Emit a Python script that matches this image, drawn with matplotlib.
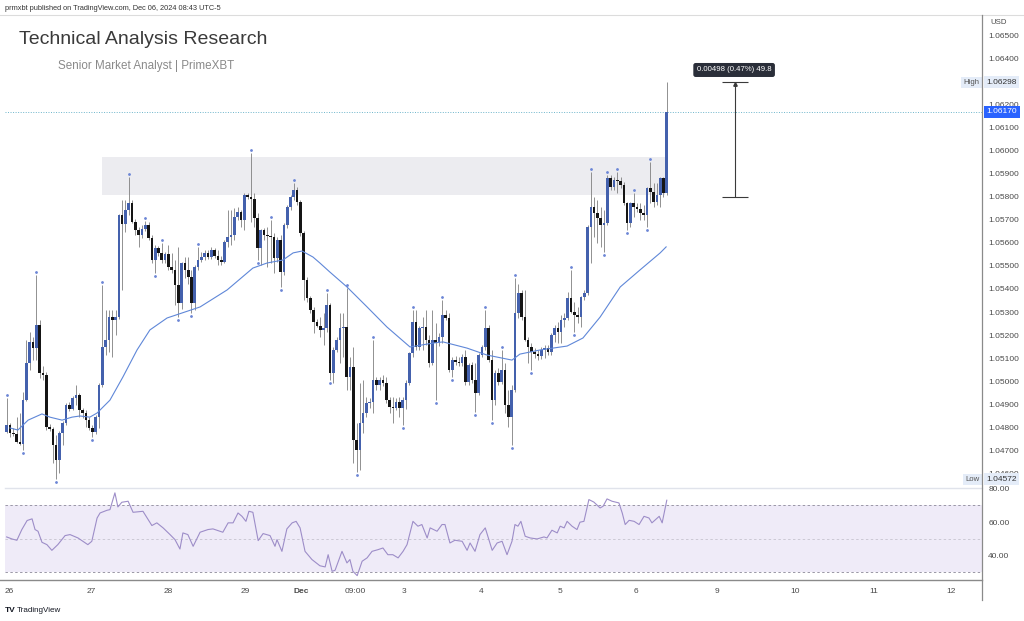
import matplotlib.pyplot as plt
from matplotlib.patches import Rectangle
from matplotlib.lines import Line2D
import numpy as np

plt.rcParams['font.family'] = ['Liberation Sans', 'DejaVu Sans']

# hourly EURUSD-style candles (open = previous close)
first_open = 1.04778
closes = [
    1.04808, 1.04774, 1.04770, 1.04735, 1.04726, 1.04917, 1.05078, 1.05170, 1.05143, 1.05243,
    1.05035, 1.05026, 1.04800, 1.04791, 1.04722, 1.04657, 1.04774, 1.04817, 1.04896, 1.04878,
    1.04926, 1.04939, 1.04874, 1.04861, 1.04830, 1.04796, 1.04778, 1.04843, 1.04983, 1.05148,
    1.05178, 1.05278, 1.05265, 1.05278, 1.05722, 1.05683, 1.05743, 1.05774, 1.05691, 1.05657,
    1.05635, 1.05661, 1.05678, 1.05622, 1.05526, 1.05578, 1.05557, 1.05526, 1.05552, 1.05496,
    1.05483, 1.05417, 1.05339, 1.05513, 1.05483, 1.05452, 1.05339, 1.05496, 1.05526, 1.05539,
    1.05557, 1.05539, 1.05570, 1.05544, 1.05526, 1.05517, 1.05604, 1.05626, 1.05635, 1.05713,
    1.05735, 1.05700, 1.05809, 1.05800, 1.05791, 1.05709, 1.05578, 1.05657, 1.05635, 1.05630,
    1.05626, 1.05535, 1.05613, 1.05474, 1.05678, 1.05757, 1.05800, 1.05830, 1.05778, 1.05643,
    1.05439, 1.05361, 1.05309, 1.05257, 1.05239, 1.05222, 1.05230, 1.05330, 1.05035, 1.05135,
    1.05178, 1.05230, 1.05235, 1.05017, 1.05061, 1.04743, 1.04700, 1.04817, 1.04861, 1.04904,
    1.04909, 1.05004, 1.04983, 1.05004, 1.04991, 1.04917, 1.04887, 1.04883, 1.04909, 1.04883,
    1.04917, 1.04991, 1.05122, 1.05257, 1.05148, 1.05230, 1.05235, 1.05178, 1.05078, 1.05178,
    1.05165, 1.05191, 1.05287, 1.05274, 1.05048, 1.05091, 1.05083, 1.05078, 1.05104, 1.04996,
    1.05070, 1.05004, 1.04948, 1.05113, 1.05148, 1.05230, 1.05091, 1.04917, 1.05035, 1.04996,
    1.05048, 1.04896, 1.04843, 1.04961, 1.05296, 1.05383, 1.05278, 1.05178, 1.05148, 1.05126,
    1.05117, 1.05109, 1.05135, 1.05143, 1.05126, 1.05200, 1.05230, 1.05213, 1.05265, 1.05274,
    1.05361, 1.05300, 1.05287, 1.05278, 1.05365, 1.05383, 1.05670, 1.05757, 1.05730, 1.05709,
    1.05678, 1.05687, 1.05883, 1.05843, 1.05874, 1.05870, 1.05852, 1.05774, 1.05687, 1.05774,
    1.05757, 1.05748, 1.05730, 1.05722, 1.05839, 1.05822, 1.05778, 1.05809, 1.05883, 1.05817,
    1.06170,
]
highs = [
    1.04926, 1.04817, 1.04796, 1.04843, 1.04861, 1.04952, 1.05178, 1.05213, 1.05191, 1.05461,
    1.05265, 1.05065, 1.05039, 1.04813, 1.04800, 1.04765, 1.04783, 1.04826, 1.04904, 1.04909,
    1.04935, 1.04983, 1.04948, 1.04883, 1.04874, 1.04843, 1.04808, 1.04852, 1.04991, 1.05417,
    1.05309, 1.05309, 1.05309, 1.05309, 1.05726, 1.05787, 1.05787, 1.05887, 1.05787, 1.05704,
    1.05670, 1.05678, 1.05696, 1.05691, 1.05635, 1.05591, 1.05587, 1.05600, 1.05561, 1.05591,
    1.05557, 1.05526, 1.05583, 1.05517, 1.05539, 1.05539, 1.05483, 1.05504, 1.05583, 1.05561,
    1.05570, 1.05570, 1.05583, 1.05578, 1.05570, 1.05544, 1.05613, 1.05743, 1.05743, 1.05752,
    1.05757, 1.05743, 1.05817, 1.05817, 1.05991, 1.05817, 1.05730, 1.05661, 1.05665, 1.05670,
    1.05700, 1.05644, 1.05626, 1.05635, 1.05687, 1.05765, 1.05809, 1.05861, 1.05843, 1.05787,
    1.05652, 1.05452, 1.05370, 1.05322, 1.05270, 1.05278, 1.05296, 1.05383, 1.05339, 1.05148,
    1.05191, 1.05296, 1.05296, 1.05404, 1.05104, 1.05148, 1.04817, 1.04991, 1.05004, 1.04930,
    1.04926, 1.05178, 1.05017, 1.05017, 1.05026, 1.05017, 1.04930, 1.04930, 1.04926, 1.04930,
    1.04930, 1.05004, 1.05126, 1.05309, 1.05309, 1.05239, 1.05278, 1.05309, 1.05200, 1.05309,
    1.05252, 1.05209, 1.05352, 1.05309, 1.05296, 1.05104, 1.05109, 1.05104, 1.05117, 1.05135,
    1.05078, 1.05083, 1.05078, 1.05122, 1.05157, 1.05309, 1.05243, 1.05135, 1.05048, 1.05057,
    1.05135, 1.05078, 1.04961, 1.04983, 1.05448, 1.05422, 1.05396, 1.05396, 1.05191, 1.05165,
    1.05143, 1.05135, 1.05148, 1.05157, 1.05157, 1.05209, 1.05243, 1.05257, 1.05287, 1.05296,
    1.05387, 1.05483, 1.05343, 1.05322, 1.05370, 1.05396, 1.05678, 1.05909, 1.05800, 1.05787,
    1.05757, 1.05743, 1.05896, 1.05896, 1.05887, 1.05909, 1.05887, 1.05865, 1.05778, 1.05778,
    1.05817, 1.05774, 1.05774, 1.05765, 1.05843, 1.05952, 1.05861, 1.05861, 1.05887, 1.05887,
    1.06298,
]
lows = [
    1.04774, 1.04757, 1.04761, 1.04730, 1.04722, 1.04700, 1.04913, 1.05048, 1.05091, 1.05091,
    1.05013, 1.05004, 1.04787, 1.04783, 1.04644, 1.04572, 1.04600, 1.04722, 1.04808, 1.04870,
    1.04874, 1.04896, 1.04843, 1.04839, 1.04800, 1.04787, 1.04757, 1.04770, 1.04796, 1.04974,
    1.05113, 1.05126, 1.05104, 1.05200, 1.05270, 1.05396, 1.05648, 1.05722, 1.05687, 1.05635,
    1.05583, 1.05622, 1.05652, 1.05613, 1.05513, 1.05470, 1.05544, 1.05513, 1.05513, 1.05483,
    1.05470, 1.05330, 1.05278, 1.05313, 1.05448, 1.05422, 1.05296, 1.05309, 1.05483, 1.05517,
    1.05526, 1.05530, 1.05530, 1.05535, 1.05504, 1.05504, 1.05513, 1.05583, 1.05591, 1.05613,
    1.05700, 1.05670, 1.05657, 1.05791, 1.05691, 1.05670, 1.05526, 1.05504, 1.05613, 1.05496,
    1.05513, 1.05470, 1.05517, 1.05409, 1.05461, 1.05665, 1.05743, 1.05787, 1.05765, 1.05630,
    1.05352, 1.05343, 1.05296, 1.05209, 1.05235, 1.05191, 1.05157, 1.05213, 1.05004, 1.04991,
    1.05126, 1.05078, 1.05104, 1.04961, 1.04961, 1.04644, 1.04605, 1.04613, 1.04774, 1.04843,
    1.04883, 1.04861, 1.04961, 1.04961, 1.04978, 1.04904, 1.04861, 1.04817, 1.04874, 1.04843,
    1.04808, 1.04878, 1.04983, 1.05104, 1.05135, 1.05135, 1.05135, 1.05157, 1.05061, 1.05070,
    1.04917, 1.05152, 1.05165, 1.05265, 1.05039, 1.05017, 1.05070, 1.05065, 1.05065, 1.04983,
    1.04983, 1.04991, 1.04865, 1.04939, 1.05104, 1.05135, 1.05083, 1.04830, 1.04896, 1.04983,
    1.04987, 1.04861, 1.04800, 1.04722, 1.04952, 1.05274, 1.05265, 1.05174, 1.05078, 1.05048,
    1.05100, 1.05091, 1.05096, 1.05100, 1.05113, 1.05113, 1.05170, 1.05165, 1.05165, 1.05235,
    1.05265, 1.05296, 1.05213, 1.05252, 1.05235, 1.05352, 1.05374, 1.05513, 1.05626, 1.05600,
    1.05583, 1.05561, 1.05678, 1.05830, 1.05830, 1.05817, 1.05839, 1.05765, 1.05657, 1.05670,
    1.05713, 1.05735, 1.05700, 1.05700, 1.05670, 1.05774, 1.05757, 1.05765, 1.05757, 1.05800,
    1.05809,
]

# moving average line (bar index, price)
ma_idx = [1, 3.4, 6.5, 10.7, 13.1, 16.8, 19.8, 22.2, 25.2, 27.4, 31.3, 35.2, 39.5, 43.4, 48.6,
          58.6, 66.8, 74.6, 78.9, 83.7, 86.8, 89.5, 92.8, 94.9, 97.9, 103.1, 109.2, 115.2, 122.2,
          129.2, 132.2, 139.5, 145.5, 153.1, 155.5, 161.6, 169.8, 174.6, 179.8, 185.9, 191.9, 198, 199.8]
ma_val = [1.04796, 1.04787, 1.04830, 1.04857, 1.04843, 1.04830, 1.04843, 1.04848, 1.04843, 1.04861,
          1.04917, 1.05017, 1.05135, 1.05222, 1.05274, 1.05322, 1.05396, 1.05491, 1.05513, 1.05526,
          1.05557, 1.05565, 1.05539, 1.05513, 1.05474, 1.05409, 1.05322, 1.05235, 1.05148, 1.05165,
          1.05170, 1.05143, 1.05113, 1.05091, 1.05117, 1.05135, 1.05152, 1.05187, 1.05278, 1.05409,
          1.05483, 1.05557, 1.05583]

# RSI (bar index, value)
rsi_idx = [0, 1.6, 3.1, 4.6, 6.2, 7.7, 8.6, 9.5, 10.7, 12.2, 13.7, 15.5, 17.7, 19.2, 21.6, 24.6,
           25.8, 27.4, 28.3, 30.4, 31.3, 32.8, 33.7, 34.9, 36.8, 38.3, 41.3, 44, 45.5, 47.4, 49.5,
           51, 52.5, 53.4, 54.9, 56.5, 58.6, 61, 62.5, 64.6, 65.5, 67.1, 68.6, 70.1, 71.3, 72.5,
           73.4, 74.6, 76.2, 77.7, 79.8, 81.3, 81.9, 83.4, 84.9, 86.5, 87.7, 88.9, 90.4, 92.5,
           94.9, 96.5, 97.4, 98.6, 99.5, 101.6, 103.1, 104, 104.9, 106.2, 107.7, 109.2, 110.7,
           112.5, 114, 115.5, 117, 118.6, 120.1, 121.3, 123.1, 124.6, 125.8, 127.4, 128.3, 130.4,
           131.9, 132.8, 134.3, 135.8, 138, 139.5, 140.4, 141.9, 143.4, 145, 147.1, 148.6, 150.1,
           151.6, 153.1, 154, 154.9, 155.8, 157.1, 158.6, 160.7, 162.8, 163.7, 165.2, 166.8,
           167.7, 168.9, 169.8, 171.3, 172.8, 173.7, 174.9, 176.4, 177.9, 179.8, 180.7, 181.9,
           183.4, 185.5, 186.5, 187.4, 188.6, 190.1, 191.6, 193.1, 194.6, 195.5, 197.7, 198.6, 200]
rsi_val = [51.2, 50, 49.2, 55.6, 61, 62, 55.6, 54.6, 48, 46.6, 43.2, 46.6, 52, 52.6, 50.6, 46.6,
           48.6, 62.5, 65.5, 67.1, 67.5, 77.5, 69.1, 71.9, 72.5, 65.9, 66.5, 58, 59.6, 56.6, 52.6,
           49.6, 44, 53.6, 52.6, 45.6, 54, 55.6, 56, 54.6, 54, 59.6, 59.6, 65.5, 63.5, 60.5,
           66.5, 65.9, 49, 53.2, 52, 45.6, 49.6, 42.6, 56, 59.6, 60.5, 56.6, 42.6, 37.7,
           34, 33.3, 40.6, 30.7, 31.3, 42.6, 35.7, 37.7, 30.7, 28.1, 36.7, 38.7, 42.6,
           43.6, 44.6, 40.6, 40.6, 38.7, 42.6, 46.6, 60.5, 57.6, 58.6, 50.6, 56.6, 54.6,
           58.6, 58.6, 47.6, 49.2, 48.6, 43.2, 47.6, 42.6, 52.6, 56.6, 43.2, 47.6, 48.6,
           40.6, 48.6, 58.6, 57.6, 60.5, 51.6, 50.6, 50, 51.2, 50.6, 55.2, 53.6,
           57.6, 56.6, 60.5, 57.6, 55.6, 60, 60.5, 73.5, 72, 68.5, 69.5, 73.9,
           72.5, 71.5, 65.5, 58.6, 61.1, 60.5, 58.6, 63.5, 62.5, 59.6, 63.5, 59.6, 73.1]

# swing markers (bar indices)
pivot_hi = [0, 9, 29, 37, 42, 47, 58, 74, 80, 87, 97, 103, 111, 123, 132, 145, 150, 154,
            171, 177, 182, 185, 190, 195]
pivot_lo = [5, 15, 26, 45, 52, 56, 76, 83, 98, 106, 120, 130, 135, 142, 147, 153, 159,
            172, 181, 188, 194]

zone_low, zone_high = 1.05809, 1.05974
zone_start, zone_end = 29, 199.5
last_price = 1.06170
high_price = 1.06298
low_price = 1.04572
measure_top, measure_bottom = 1.06298, 1.05800
measure_text = "0.00498 (0.47%) 49.8"

# 1.06300 sits under the "High" tag in the reference, so it is left out
price_ticks = [1.065, 1.064, 1.062, 1.061, 1.060, 1.059, 1.058, 1.057, 1.056,
               1.055, 1.054, 1.053, 1.052, 1.051, 1.050, 1.049, 1.048, 1.047, 1.046]
rsi_ticks = [80, 60, 40]
date_pos = [0.7, 25.5, 48.9, 72.2, 89.2, 105.5, 120.4, 143.7, 167.7, 190.7, 215.2, 238.9, 262.8, 286.2]
date_labels = ['26', '27', '28', '29', 'Dec', '09:00', '3', '4', '5', '6', '9', '10', '11', '12']

W, H = 1024, 621
fig = plt.figure(figsize=(W / 100, H / 100), dpi=100)
fig.patch.set_facecolor('white')

ax = fig.add_axes([5 / W, 1 - 488 / H, 977 / W, 473 / H])
ax2 = fig.add_axes([5 / W, 1 - 580 / H, 977 / W, 92 / H], sharex=ax)

opens = [first_open] + closes[:-1]
x = np.arange(len(closes))
o = np.array(opens)
c = np.array(closes)
up = c >= o
body_bot = np.minimum(o, c)
body_h = np.maximum(np.abs(c - o), 0.00003)
colors = np.where(up, '#4461ad', '#151515')

ax.add_patch(Rectangle((zone_start, zone_low), zone_end - zone_start, zone_high - zone_low,
                       facecolor='#ececf0', edgecolor='none', zorder=0))
ax.vlines(x, lows, highs, color='#7f7f7f', lw=0.6, zorder=2)
ax.bar(x, body_h, bottom=body_bot, width=0.8, color=colors, linewidth=0, zorder=3)
ax.plot(ma_idx, ma_val, color='#5f87d8', lw=0.8, zorder=4)

hi_arr = np.array(highs)
lo_arr = np.array(lows)
ax.plot(pivot_hi, hi_arr[pivot_hi] + 0.00012, 'o', ms=1.0, color='#6c86d6', zorder=4)
ax.plot(pivot_lo, lo_arr[pivot_lo] - 0.00012, 'o', ms=1.0, color='#6c86d6', zorder=4)

ax.axhline(last_price, color='#6db5cb', lw=0.7, ls=(0, (1, 1.6)), zorder=1)

# measure tool
ax.vlines(220.7, measure_bottom, measure_top, color='#3a3a3a', lw=0.8, zorder=5)
ax.hlines([measure_top, measure_bottom], 216.7, 224.6, color='#3a3a3a', lw=0.8, zorder=5)
ax.plot([220.7], [measure_top - 0.00008], marker='^', ms=2.5, color='#3a3a3a', zorder=5)
ax.text(220.4, 1.06352, measure_text, ha='center', va='center', fontsize=5.6, color='white',
        bbox=dict(boxstyle='round,pad=0.45,rounding_size=0.3', fc='#2a2e39', ec='none'), zorder=6)

ax.set_xlim(-0.5, 295.5)
ax.set_ylim(1.04535, 1.06591)
ax.yaxis.tick_right()
ax.set_yticks(price_ticks)
ax.set_yticklabels(['%.5f' % t for t in price_ticks])
ax.tick_params(axis='y', length=0, pad=4.5, labelsize=6, labelcolor='#4a4a4a')
ax.tick_params(axis='x', length=0, labelbottom=False)
for s in ax.spines.values():
    s.set_visible(False)

# price tags on the scale
ytr = ax.get_yaxis_transform()
tag_light = dict(boxstyle='square,pad=0.3', fc='#e4ecf8', ec='none')
ax.text(1.0045, high_price, '1.06298', transform=ytr, ha='left', va='center', fontsize=6,
        color='#333333', bbox=tag_light, zorder=7, clip_on=False)
ax.text(0.9975, high_price, 'High', transform=ytr, ha='right', va='center', fontsize=5.6,
        color='#555555', bbox=tag_light, zorder=7, clip_on=False)
ax.text(1.0045, low_price, '1.04572', transform=ytr, ha='left', va='center', fontsize=6,
        color='#333333', bbox=tag_light, zorder=7, clip_on=False)
ax.text(0.9975, low_price, 'Low', transform=ytr, ha='right', va='center', fontsize=5.6,
        color='#555555', bbox=tag_light, zorder=7, clip_on=False)
ax.text(1.0045, last_price, '1.06170', transform=ytr, ha='left', va='center', fontsize=6,
        color='white', bbox=dict(boxstyle='square,pad=0.3', fc='#2962ff', ec='none'),
        zorder=7, clip_on=False)

# RSI pane
ax2.axhspan(30, 70, color='#efebf8', lw=0, zorder=0)
ax2.axhline(70, color='#9a97a6', lw=0.7, ls=(0, (2.5, 2.5)), zorder=1)
ax2.axhline(30, color='#9a97a6', lw=0.7, ls=(0, (2.5, 2.5)), zorder=1)
ax2.axhline(50, color='#cbc8d4', lw=0.7, ls=(0, (2.5, 2.5)), zorder=1)
ax2.plot(rsi_idx, rsi_val, color='#9d8dc8', lw=0.8, zorder=3)
ax2.set_ylim(25.5, 80.4)
ax2.yaxis.tick_right()
ax2.set_yticks(rsi_ticks)
ax2.set_yticklabels(['%.2f' % t for t in rsi_ticks])
ax2.tick_params(axis='y', length=0, pad=4.5, labelsize=6, labelcolor='#4a4a4a')
ax2.set_xticks(date_pos)
ax2.set_xticklabels(date_labels)
ax2.tick_params(axis='x', length=0, pad=6, labelsize=6, labelcolor='#4a4a4a')
for lab in ax2.get_xticklabels():
    if lab.get_text() == 'Dec':
        lab.set_fontweight('bold')
for s in ax2.spines.values():
    s.set_visible(False)

# frame lines
fig.add_artist(Line2D([0, 1], [1 - 15 / H, 1 - 15 / H], color='#dcdcdc', lw=0.8))
fig.add_artist(Line2D([5 / W, 982 / W], [1 - 488 / H, 1 - 488 / H], color='#e0e3eb', lw=1.0))
fig.add_artist(Line2D([0, 982 / W], [1 - 580 / H, 1 - 580 / H], color='#8a8a8a', lw=1.0))
fig.add_artist(Line2D([982 / W, 982 / W], [1 - 15 / H, 1 - 600 / H], color='#8a8a8a', lw=0.9))

# texts
fig.text(5 / W, 1 - 8 / H, 'prmxbt published on TradingView.com, Dec 06, 2024 08:43 UTC-5',
         fontsize=5.3, color='#333333', va='center')
fig.text(19 / W, 1 - 40 / H, 'Technical Analysis Research', fontsize=14, color='#3a3a3a',
         va='center')
fig.text(58 / W, 1 - 66 / H, 'Senior Market Analyst | PrimeXBT', fontsize=8.4, color='#8a8a8a',
         va='center')
fig.text(990 / W, 1 - 23 / H, 'USD', fontsize=5.6, color='#4a4a4a', va='center')
fig.text(5 / W, 1 - 611 / H, 'TV', fontsize=6, fontweight='bold', color='#131722', va='center')
fig.text(17 / W, 1 - 611 / H, 'TradingView', fontsize=5.8, color='#131722', va='center')

fig.savefig('out.png', dpi=100)
